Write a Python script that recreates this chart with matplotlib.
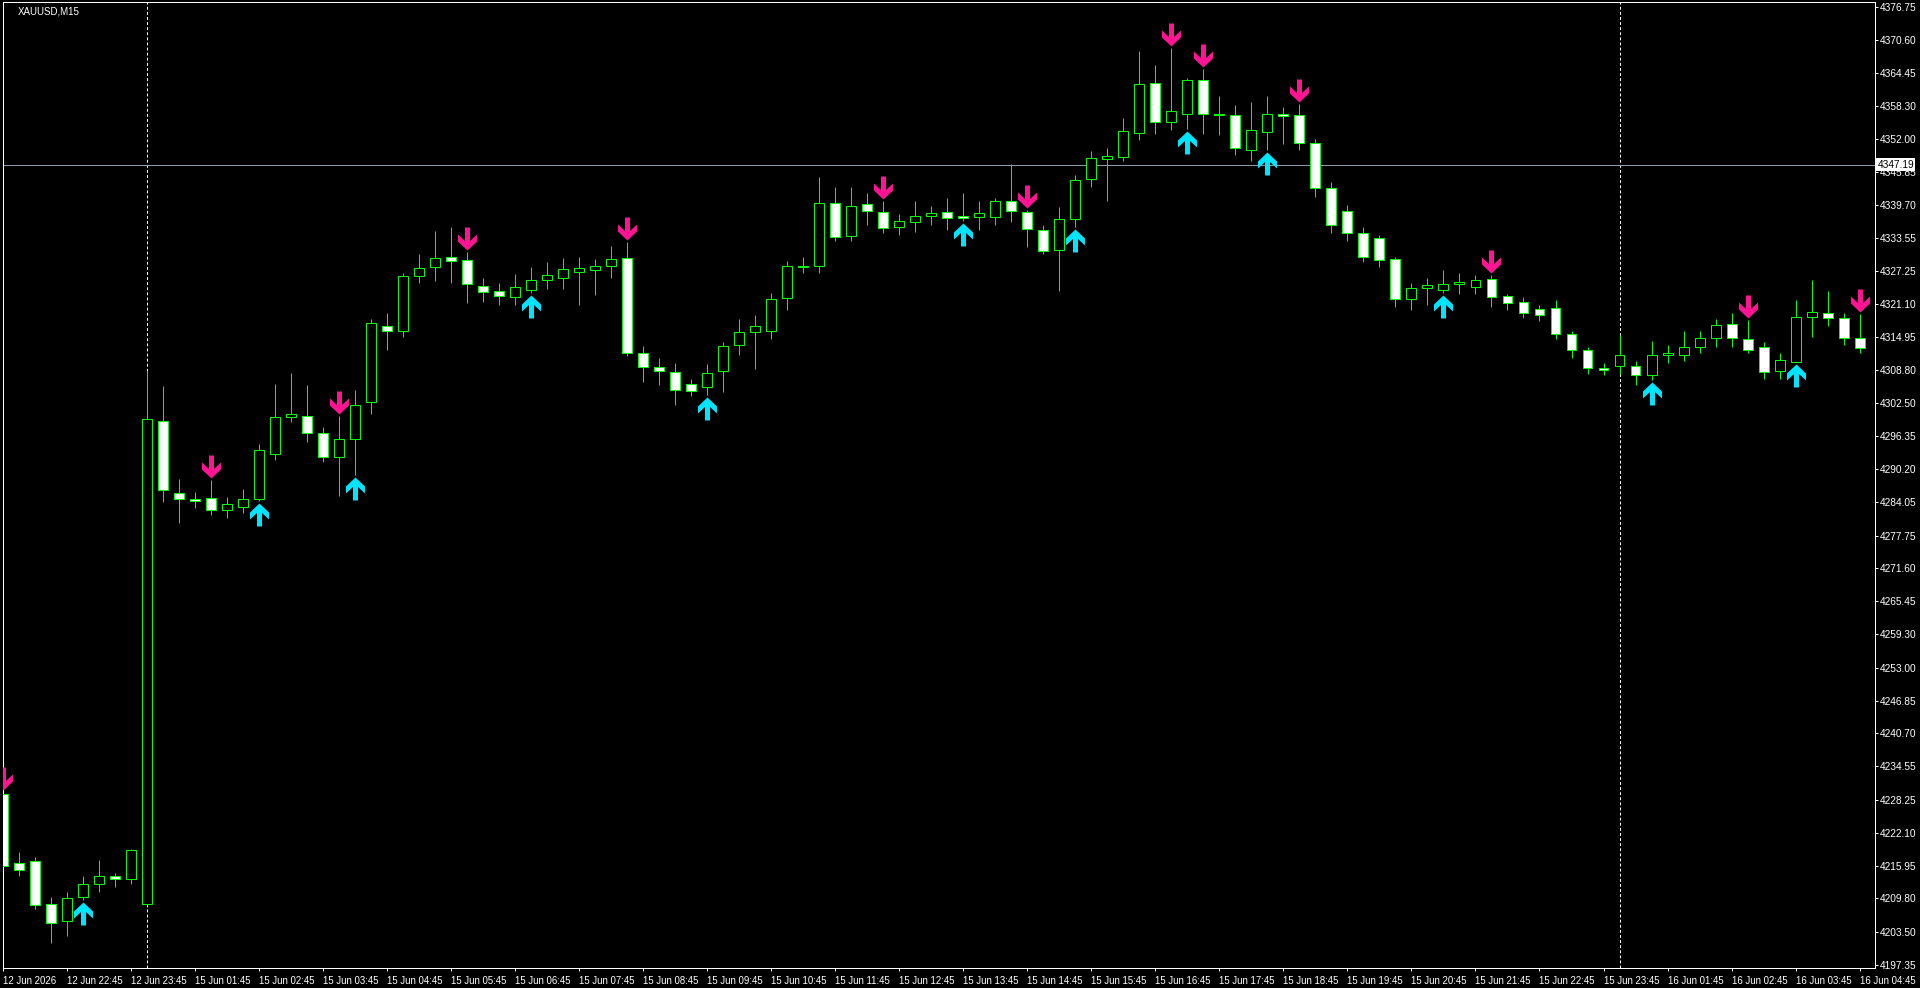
import numpy as np
import pandas as pd
import matplotlib
matplotlib.use("Agg")
import matplotlib.pyplot as plt
from matplotlib.path import Path
from matplotlib.transforms import blended_transform_factory

plt.rcParams['font.family'] = ['Liberation Sans', 'DejaVu Sans']

# XAUUSD M15 candles (bar 0 = 12 Jun 21:45)
opens = [4229.3, 4216.5, 4216.8, 4208.8, 4205.5, 4210.0, 4212.5, 4214.0, 4213.4, 4208.8,
         4299.2, 4285.8, 4284.6, 4284.8, 4282.5, 4283.2, 4284.6, 4293.0, 4300.0, 4300.2,
         4297.0, 4292.5, 4295.9, 4302.7, 4317.0, 4316.0, 4326.3, 4328.0, 4329.9, 4329.3,
         4324.5, 4323.6, 4322.5, 4323.8, 4325.7, 4326.0, 4327.2, 4327.5, 4328.3, 4329.7,
         4311.9, 4309.4, 4308.3, 4306.2, 4305.5, 4308.5, 4313.5, 4315.8, 4316.0, 4322.3,
         4328.0, 4328.2, 4340.0, 4333.8, 4339.8, 4338.3, 4335.5, 4336.4, 4337.6, 4338.3,
         4337.7, 4337.5, 4337.5, 4340.5, 4338.4, 4335.0, 4331.2, 4337.0, 4344.5, 4348.2,
         4348.6, 4353.2, 4362.5, 4355.2, 4356.8, 4363.0, 4356.8, 4356.5, 4350.0, 4353.4,
         4356.8, 4356.5, 4351.3, 4342.8, 4338.5, 4334.5, 4333.5, 4329.6, 4322.0, 4324.2,
         4323.8, 4324.9, 4324.3, 4325.8, 4322.7, 4321.5, 4320.2, 4320.4, 4315.6, 4312.6,
         4309.2, 4309.6, 4309.6, 4307.8, 4311.5, 4311.6, 4313.1, 4314.7, 4317.4, 4314.6,
         4313.1, 4308.5, 4310.3, 4318.6, 4319.5, 4318.5, 4314.7]
highs = [4229.7, 4218.5, 4217.5, 4210.0, 4211.0, 4214.0, 4217.0, 4214.5, 4219.0, 4308.5,
         4305.7, 4288.3, 4286.0, 4288.2, 4285.0, 4286.5, 4295.0, 4306.2, 4308.2, 4306.0,
         4298.0, 4300.2, 4305.0, 4318.3, 4319.5, 4327.0, 4330.5, 4334.8, 4335.5, 4330.9,
         4326.0, 4325.0, 4326.8, 4328.0, 4329.0, 4329.8, 4330.0, 4329.5, 4332.0, 4332.7,
         4313.3, 4311.0, 4310.0, 4307.0, 4309.8, 4314.0, 4318.3, 4319.0, 4323.1, 4329.1,
         4330.0, 4344.9, 4343.1, 4343.0, 4342.0, 4340.5, 4338.0, 4340.5, 4339.5, 4341.0,
         4342.0, 4340.5, 4341.0, 4347.4, 4338.7, 4336.0, 4339.3, 4345.3, 4349.7, 4350.4,
         4356.0, 4368.5, 4365.8, 4369.0, 4363.5, 4365.1, 4360.0, 4358.4, 4359.0, 4360.0,
         4358.0, 4358.6, 4352.0, 4344.0, 4339.6, 4335.5, 4334.0, 4330.0, 4325.0, 4326.0,
         4327.5, 4327.0, 4326.6, 4326.6, 4323.0, 4322.5, 4321.0, 4321.8, 4316.0, 4313.0,
         4310.0, 4315.4, 4310.5, 4314.2, 4313.5, 4316.0, 4316.1, 4318.3, 4319.5, 4318.1,
         4314.0, 4312.0, 4321.8, 4325.6, 4323.6, 4319.5, 4319.2]
lows = [4214.5, 4214.0, 4207.8, 4201.5, 4202.8, 4209.5, 4211.0, 4212.0, 4212.5, 4208.5,
        4284.0, 4280.1, 4283.0, 4281.7, 4281.0, 4282.0, 4284.2, 4292.0, 4299.0, 4295.2,
        4291.5, 4285.1, 4289.1, 4300.5, 4312.6, 4315.0, 4325.0, 4325.5, 4325.0, 4321.3,
        4321.5, 4320.9, 4321.0, 4323.1, 4324.0, 4324.0, 4321.0, 4322.9, 4326.0, 4311.4,
        4306.6, 4306.0, 4302.3, 4303.9, 4304.0, 4304.6, 4311.5, 4309.0, 4314.5, 4320.0,
        4327.0, 4327.0, 4333.0, 4333.0, 4336.0, 4334.5, 4334.0, 4334.6, 4336.0, 4335.0,
        4336.6, 4335.0, 4336.0, 4336.5, 4331.8, 4330.5, 4323.6, 4335.5, 4343.0, 4340.5,
        4348.0, 4351.9, 4353.0, 4353.8, 4353.9, 4353.0, 4352.7, 4349.0, 4348.0, 4349.9,
        4351.0, 4350.0, 4341.2, 4334.5, 4333.0, 4329.0, 4328.0, 4320.5, 4320.0, 4321.0,
        4323.1, 4323.0, 4323.0, 4320.5, 4320.0, 4318.5, 4318.0, 4314.5, 4311.0, 4308.0,
        4307.8, 4308.0, 4306.0, 4306.9, 4310.0, 4310.5, 4312.0, 4313.0, 4313.0, 4312.0,
        4307.0, 4307.0, 4310.3, 4315.0, 4317.0, 4313.5, 4311.9]
closes = [4215.8, 4215.2, 4208.5, 4205.2, 4209.8, 4212.5, 4214.0, 4213.5, 4218.8, 4299.5,
          4286.3, 4284.7, 4284.2, 4282.6, 4283.6, 4284.6, 4293.8, 4300.0, 4300.5, 4297.0,
          4292.5, 4295.8, 4302.3, 4317.6, 4316.0, 4326.3, 4327.9, 4329.8, 4329.1, 4324.8,
          4323.4, 4322.7, 4324.4, 4325.7, 4326.5, 4327.6, 4327.9, 4328.2, 4329.6, 4311.9,
          4309.4, 4308.5, 4305.0, 4304.9, 4308.2, 4313.3, 4315.8, 4317.0, 4322.0, 4328.2,
          4328.2, 4340.1, 4333.7, 4339.4, 4338.5, 4335.3, 4336.6, 4337.6, 4338.2, 4337.2,
          4337.3, 4338.1, 4340.5, 4338.5, 4335.1, 4331.0, 4337.0, 4344.4, 4348.5, 4348.8,
          4353.5, 4362.3, 4355.2, 4357.3, 4363.0, 4356.8, 4356.6, 4350.4, 4353.8, 4356.8,
          4356.3, 4351.3, 4342.8, 4336.0, 4334.5, 4330.0, 4329.3, 4322.0, 4324.1, 4324.6,
          4324.9, 4325.2, 4325.7, 4322.5, 4321.3, 4319.5, 4319.0, 4315.6, 4312.6, 4309.2,
          4308.8, 4311.5, 4307.8, 4311.5, 4311.9, 4313.1, 4314.8, 4317.2, 4314.7, 4312.6,
          4308.3, 4310.7, 4318.6, 4319.7, 4318.5, 4314.7, 4312.9]

# signal arrows (bar indexes)
sell_bars = [0, 13, 21, 29, 39, 55, 64, 73, 75, 81, 93, 109, 116]
buy_bars = [5, 16, 22, 33, 44, 60, 67, 74, 79, 90, 103, 112]

time_labels = ["12 Jun 2026", "12 Jun 22:45", "12 Jun 23:45", "15 Jun 01:45", "15 Jun 02:45",
               "15 Jun 03:45", "15 Jun 04:45", "15 Jun 05:45", "15 Jun 06:45", "15 Jun 07:45",
               "15 Jun 08:45", "15 Jun 09:45", "15 Jun 10:45", "15 Jun 11:45", "15 Jun 12:45",
               "15 Jun 13:45", "15 Jun 14:45", "15 Jun 15:45", "15 Jun 16:45", "15 Jun 17:45",
               "15 Jun 18:45", "15 Jun 19:45", "15 Jun 20:45", "15 Jun 21:45", "15 Jun 22:45",
               "15 Jun 23:45", "16 Jun 01:45", "16 Jun 02:45", "16 Jun 03:45", "16 Jun 04:45"]
price_ticks = [4376.75, 4370.60, 4364.45, 4358.30, 4352.00, 4345.85, 4339.70, 4333.55, 4327.25,
               4321.10, 4314.95, 4308.80, 4302.50, 4296.35, 4290.20, 4284.05, 4277.75, 4271.60,
               4265.45, 4259.30, 4253.00, 4246.85, 4240.70, 4234.55, 4228.25, 4222.10, 4215.95,
               4209.80, 4203.50, 4197.35]
day_breaks = [9, 101]
hline_price = 4347.19

df = pd.DataFrame({'Open': opens, 'High': highs, 'Low': lows, 'Close': closes})
df['x'] = np.arange(len(df))

W, H = 1920, 988
fig = plt.figure(figsize=(W / 100, H / 100), dpi=100, facecolor='black')
ax = fig.add_axes([2.5 / W, 1 - 968 / H, (1875 - 2.5) / W, (968 - 2.5) / H], facecolor='black')

px = 0.72  # one pixel in points
lime = '#00FF00'

# wicks
ax.vlines(df['x'], df['Low'], df['High'], color=lime, lw=px, zorder=2)
# bodies: bull = black, bear = white
bull = df['Close'] >= df['Open']
bottom = np.minimum(df['Open'], df['Close'])
height = (df['Close'] - df['Open']).abs()
ax.bar(df['x'], height, bottom=bottom, width=0.62,
       color=np.where(bull, 'black', 'white'), edgecolor=lime, linewidth=px, zorder=3)

# arrows (pixel units, tip 2 px from the bar's extreme)
shape = [(0, 0), (9.5, 9), (9.5, 16), (2.5, 9.5), (2.5, 23), (-2.5, 23), (-2.5, 9.5), (-9.5, 16), (-9.5, 9)]
down_v = [(x, y + 2) for x, y in shape] + [(0, 2)]
up_v = [(x, -y) for x, y in down_v]
codes = [Path.MOVETO] + [Path.LINETO] * (len(down_v) - 2) + [Path.CLOSEPOLY]
down_arrow = Path(down_v, codes)
up_arrow = Path(up_v, codes)
ms = 2 * 25 * px
ax.plot(sell_bars, df['High'][sell_bars], ls='none', marker=down_arrow, ms=ms,
        color='#FF1493', mew=0, zorder=5)
ax.plot(buy_bars, df['Low'][buy_bars], ls='none', marker=up_arrow, ms=ms,
        color='#00E5FF', mew=0, zorder=5)

# period separators and horizontal line
for b in day_breaks:
    ax.axvline(b, color='white', lw=px, dashes=(2.9, 2.2), zorder=1)
ax.axhline(hline_price, color='#8E9AAB', lw=px, zorder=1)

ax.set_xlim(-0.02, 116.96)
ax.set_ylim(4196.78, 4377.59)

for s in ax.spines.values():
    s.set_color('white')
    s.set_linewidth(px)

ax.set_xticks(np.arange(0, len(df), 4))
ax.set_xticklabels(time_labels)
ax.tick_params(axis='x', colors='white', labelsize=6.9, length=3 * px, width=px, pad=3.5, direction='out')
for lab in ax.get_xticklabels():
    lab.set_ha('left')

ax.yaxis.tick_right()
ax.set_yticks(price_ticks)
ax.set_yticklabels([f"{p:.2f}" for p in price_ticks])
ax.tick_params(axis='y', colors='white', labelsize=7.3, length=3 * px, width=px, pad=1.5, direction='out')

trans = blended_transform_factory(ax.transAxes, ax.transData)
ax.text(1.0013, hline_price, f"{hline_price:.2f}", transform=trans, fontsize=7.3, color='black',
        va='center', ha='left', zorder=10,
        bbox=dict(facecolor='white', edgecolor='none', pad=1.0))

fig.text(18 / W, 1 - 6 / H, "XAUUSD,M15", color='white', fontsize=7.0, va='top', ha='left')

fig.savefig('out.png', dpi=100, facecolor='black')
